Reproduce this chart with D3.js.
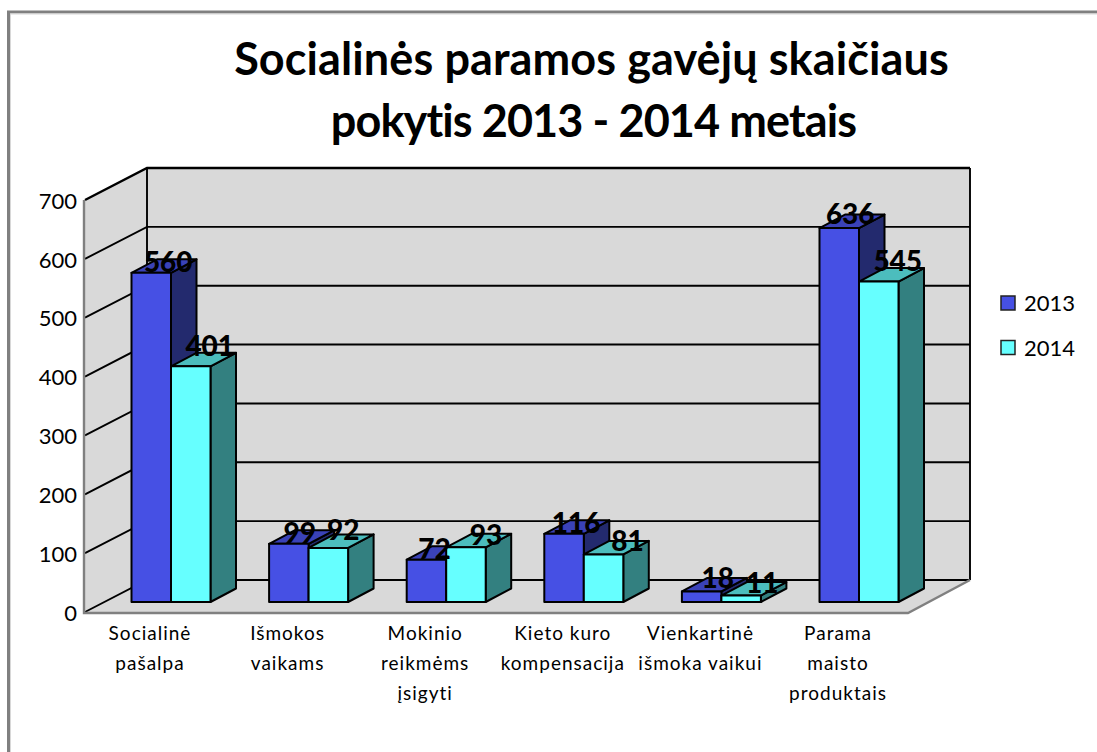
<!DOCTYPE html>
<html><head><meta charset="utf-8">
<script src="https://cdn.jsdelivr.net/npm/d3@7"></script>
<style>html,body{margin:0;padding:0;background:#fff}svg{display:block}text{font-family:Lato,"Open Sans",sans-serif;fill:#000}</style>
</head><body><svg id="c" width="1097" height="752"></svg>
<script>
const titleLines = ["Socialinės paramos gavėjų skaičiaus", "pokytis 2013 - 2014 metais"];
const categories = ["Socialinė pašalpa", "Išmokos vaikams", "Mokinio reikmėms įsigyti", "Kieto kuro kompensacija", "Vienkartinė išmoka vaikui", "Parama maisto produktais"];
const categoryLines = [["Socialinė","pašalpa"],["Išmokos","vaikams"],["Mokinio","reikmėms","įsigyti"],["Kieto kuro","kompensacija"],["Vienkartinė","išmoka vaikui"],["Parama","maisto","produktais"]];
const years = ["2013", "2014"];
const values2013 = [560, 99, 72, 116, 18, 636];
const values2014 = [401, 92, 93, 81, 11, 545];
const yTicks = [0, 100, 200, 300, 400, 500, 600, 700];

const svg = d3.select("#c");
const fill = {"2013":"#4650e4","2014":"#66ffff"};
const topC = {"2013":"#3a42b8","2014":"#4cbdbd"};
const side = {"2013":"#232a6e","2014":"#338080"};

// chart frame
svg.append("path").attr("d","M8.5,752V12H1097").attr("fill","none").attr("stroke","#808080").attr("stroke-width",3);
svg.append("path").attr("d","M10.5,752V14H1097").attr("fill","none").attr("stroke","#d8d8d8").attr("stroke-width",1);

// 3D box: front plane, back plane and depth offset
const fx0=85, fx1=908, DX=62, DY=-32;
const yFront = d3.scaleLinear().domain([0,700]).range([612,200]);
const xBar = d3.scaleBand().domain(categories).range([102.2,927.8]);
const xLabel = d3.scaleBand().domain(categories).range([81.2,906.8]);
const line = d3.line();
const wall = "#d9d9d9";

// back wall, left wall, floor
svg.append("path").attr("fill",wall).attr("d",line([[fx0+DX,yFront(700)+DY],[fx1+DX,yFront(700)+DY],[fx1+DX,yFront(0)+DY],[fx0+DX,yFront(0)+DY]])+"Z");
svg.append("path").attr("fill",wall).attr("d",line([[fx0,yFront(700)],[fx0+DX,yFront(700)+DY],[fx0+DX,yFront(0)+DY],[fx0,yFront(0)]])+"Z");
svg.append("path").attr("fill",wall).attr("d",line([[fx0,yFront(0)],[fx0+DX,yFront(0)+DY],[fx1+DX,yFront(0)+DY],[fx1,yFront(0)]])+"Z");

// gridlines on both walls
yTicks.forEach(t=>{
  const w = t===700?2.4:1.9;
  svg.append("path").attr("fill","none").attr("stroke","#000").attr("stroke-width",w)
    .attr("d",line([[fx0,yFront(t)],[fx0+DX,yFront(t)+DY],[fx1+DX,yFront(t)+DY]]));
});
svg.append("line").attr("x1",fx0+DX).attr("x2",fx0+DX).attr("y1",yFront(700)+DY).attr("y2",yFront(0)+DY).attr("stroke","#000").attr("stroke-width",1.9);
svg.append("line").attr("x1",fx1+DX).attr("x2",fx1+DX).attr("y1",yFront(700)+DY).attr("y2",yFront(0)+DY).attr("stroke","#000").attr("stroke-width",1.9);
// grey floor / left edges
svg.append("path").attr("fill","none").attr("stroke","#808080").attr("stroke-width",2.4)
  .attr("d",line([[fx0-1,yFront(700)],[fx0-1,yFront(0)+1],[fx1,yFront(0)+1],[fx1+DX,yFront(0)+DY]]));

const barW = 39.5, barDX = 25.5, barDY = -13.5, barLift = -10;
const yBar = d3.scaleLinear().domain([0,700]).range([yFront(0)+barLift, yFront(700)+barLift+0.5]);
const series = [
  {y:"2013",v:values2013,off:-barW,lx:[17,11,8,12,16,11],ly:[-11,-11,-10,-11,-13,-14]},
  {y:"2014",v:values2014,off:0,lx:[19,15,20,24,21,19],ly:[-20,-18,-12,-13,-12,-20]}
];
const bars = [];
series.forEach(s=>s.v.forEach((v,i)=>bars.push({s,v,i})));

const g = svg.append("g").attr("stroke","#000").attr("stroke-width",2).attr("stroke-linejoin","round");
categories.forEach((c,i)=>{
  series.forEach(s=>{
    const v = s.v[i];
    const x0 = xBar(c)+xBar.bandwidth()/2+s.off, x1 = x0+barW;
    const yt = yBar(v), yb = yBar(0);
    g.append("path").attr("fill",side[s.y]).attr("d",line([[x1,yt],[x1+barDX,yt+barDY],[x1+barDX,yb+barDY],[x1,yb]])+"Z");
    g.append("path").attr("fill",topC[s.y]).attr("d",line([[x0,yt],[x0+barDX,yt+barDY],[x1+barDX,yt+barDY],[x1,yt]])+"Z");
    g.append("path").attr("fill",fill[s.y]).attr("d",line([[x0,yt],[x1,yt],[x1,yb],[x0,yb]])+"Z");
  });
});
// data labels
bars.forEach(d=>{
  const cx = xBar(categories[d.i])+xBar.bandwidth()/2+d.s.off+barW/2;
  svg.append("text").attr("x",cx+d.s.lx[d.i]).attr("y",yBar(d.v)+d.s.ly[d.i]).attr("dy","0.35em")
    .attr("text-anchor","middle").attr("font-size",28).attr("font-weight",900).text(d.v);
});

// y axis labels
yTicks.forEach(t=>{
  svg.append("text").attr("x",77).attr("y",yFront(t)+1).attr("dy","0.35em").attr("text-anchor","end")
    .attr("font-size",22).text(t);
});
// category labels
categoryLines.forEach((ls,i)=>{
  ls.forEach((l,k)=>{
    svg.append("text").attr("x",xLabel(categories[i])+xLabel.bandwidth()/2).attr("y",633+30*k).attr("dy","0.35em")
      .attr("text-anchor","middle").attr("font-size",19).attr("letter-spacing",1).text(l);
  });
});
// title
const titleSpacing = [0.1,-0.9];
const titleX = [591.5,593.5];
titleLines.forEach((l,k)=>{
  svg.append("text").attr("x",titleX[k]).attr("y",59+62*k).attr("dy","0.35em").attr("text-anchor","middle")
    .attr("font-size",45).attr("letter-spacing",titleSpacing[k]).attr("font-weight",700).text(l);
});
// legend
years.forEach((y,k)=>{
  svg.append("rect").attr("x",1001).attr("y",296+44.5*k).attr("width",14).attr("height",14)
    .attr("fill",fill[y]).attr("stroke","#222").attr("stroke-width",1.5);
  svg.append("text").attr("x",1024).attr("y",303+45*k).attr("dy","0.35em").attr("font-size",22).text(y);
});
</script></body></html>
